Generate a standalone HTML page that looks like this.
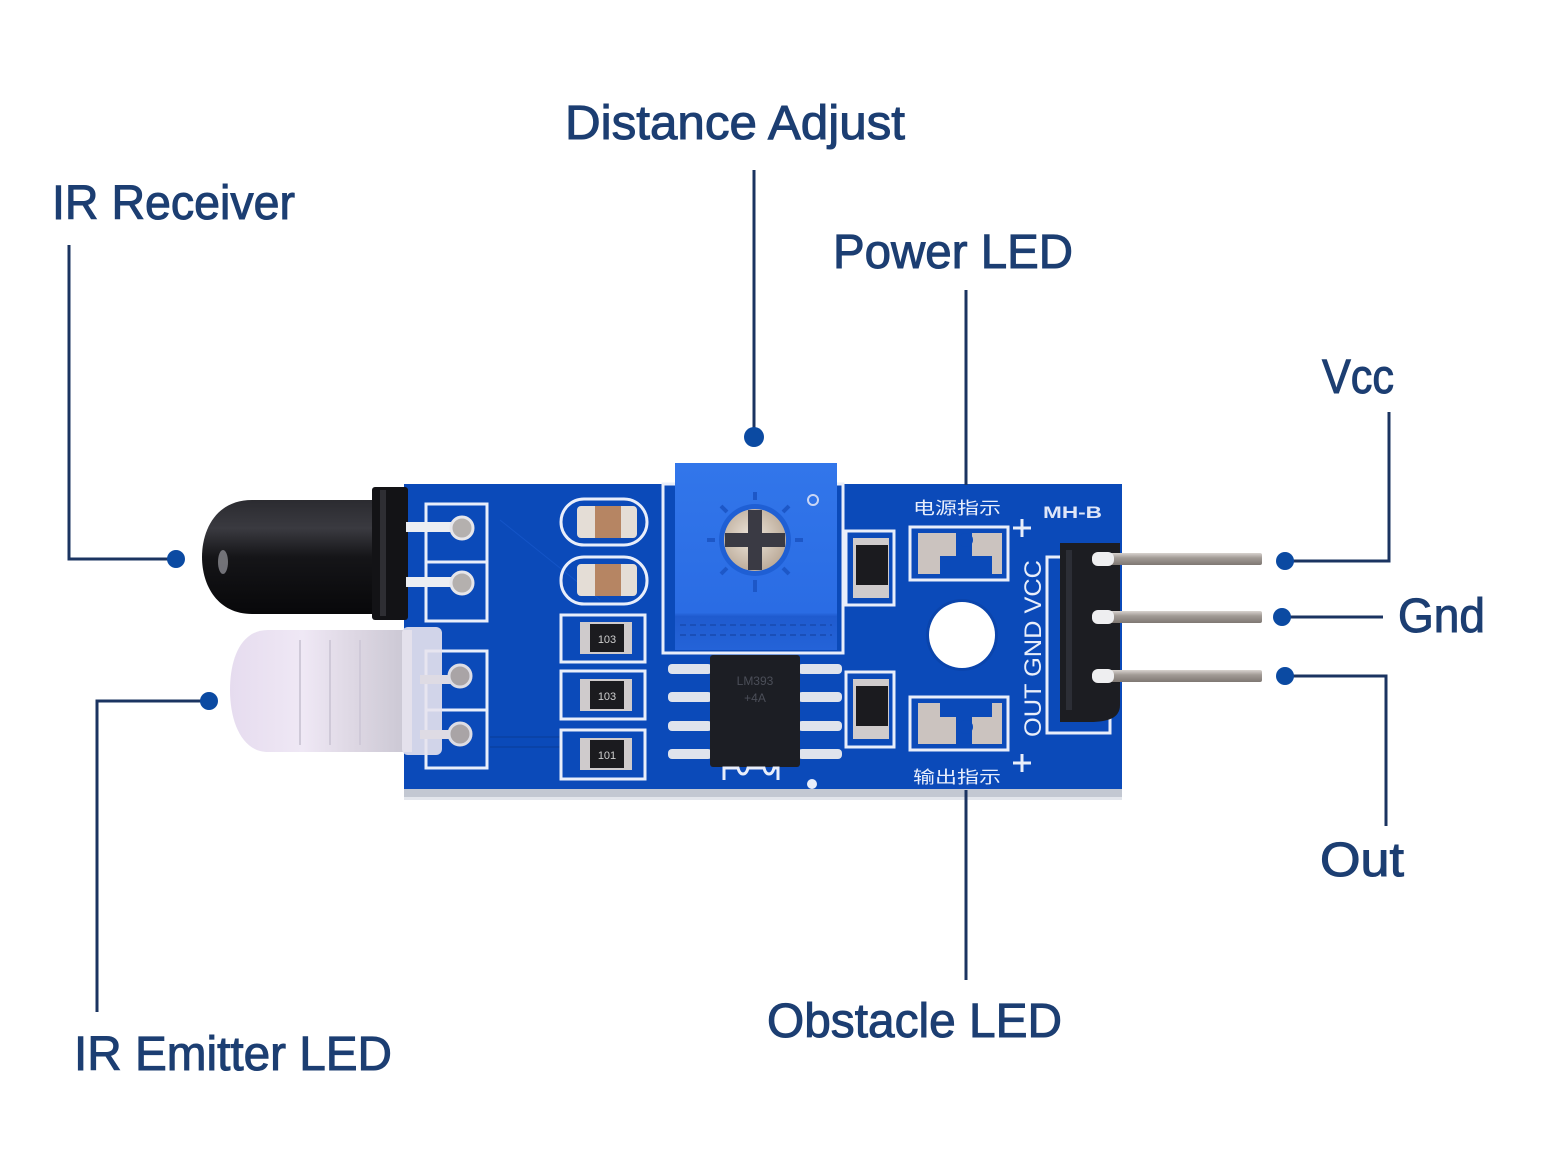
<!DOCTYPE html>
<html>
<head>
<meta charset="utf-8">
<style>
  html,body{margin:0;padding:0;background:#fff;}
  svg{display:block;}
  .lbl{font-family:"Liberation Sans",sans-serif;font-size:48px;fill:#1c3e72;stroke:#1c3e72;stroke-width:1.0;}
  .cn{font-family:"Liberation Sans","Noto Sans CJK SC",sans-serif;font-size:17px;fill:#e8eefc;}
</style>
</head>
<body>
<svg width="1550" height="1163" viewBox="0 0 1550 1163" xmlns="http://www.w3.org/2000/svg">
  <defs>
    <linearGradient id="blk" x1="0" y1="0" x2="0" y2="1">
      <stop offset="0" stop-color="#2b2b30"/>
      <stop offset="0.25" stop-color="#3a3a40"/>
      <stop offset="0.5" stop-color="#151518"/>
      <stop offset="1" stop-color="#08080a"/>
    </linearGradient>
    <linearGradient id="clear" x1="0" y1="0" x2="1" y2="0">
      <stop offset="0" stop-color="#e6dcef"/>
      <stop offset="0.4" stop-color="#efe8f5"/>
      <stop offset="0.7" stop-color="#dcd6e2"/>
      <stop offset="1" stop-color="#c9c6d2"/>
    </linearGradient>
    <linearGradient id="pin" x1="0" y1="0" x2="0" y2="1">
      <stop offset="0" stop-color="#d8d3cf"/>
      <stop offset="0.4" stop-color="#a39c97"/>
      <stop offset="1" stop-color="#7f7873"/>
    </linearGradient>
    <linearGradient id="pot" x1="0" y1="0" x2="0" y2="1">
      <stop offset="0" stop-color="#3276ea"/>
      <stop offset="0.8" stop-color="#2a6ce4"/>
      <stop offset="0.82" stop-color="#1f5bcf"/>
      <stop offset="1" stop-color="#2463d8"/>
    </linearGradient>
    <radialGradient id="knob" cx="0.45" cy="0.45" r="0.6">
      <stop offset="0" stop-color="#eee6dc"/>
      <stop offset="1" stop-color="#b9a896"/>
    </radialGradient>
  </defs>

  <rect width="1550" height="1163" fill="#ffffff"/>

  <!-- ===== Labels ===== -->
  <text class="lbl" x="52" y="219" textLength="243" lengthAdjust="spacingAndGlyphs">IR Receiver</text>
  <text class="lbl" x="565" y="139" textLength="340" lengthAdjust="spacingAndGlyphs">Distance Adjust</text>
  <text class="lbl" x="833" y="268" textLength="240" lengthAdjust="spacingAndGlyphs">Power LED</text>
  <text class="lbl" x="1322" y="393" textLength="72" lengthAdjust="spacingAndGlyphs">Vcc</text>
  <text class="lbl" x="1398" y="632" textLength="87" lengthAdjust="spacingAndGlyphs">Gnd</text>
  <text class="lbl" x="1320" y="876" textLength="84" lengthAdjust="spacingAndGlyphs">Out</text>
  <text class="lbl" x="767" y="1037" textLength="295" lengthAdjust="spacingAndGlyphs">Obstacle LED</text>
  <text class="lbl" x="74" y="1070" textLength="318" lengthAdjust="spacingAndGlyphs">IR Emitter LED</text>

  <!-- ===== Board ===== -->
  <rect x="404" y="484" width="718" height="307" fill="#0b4ab9"/>
  <rect x="404" y="789" width="718" height="10" fill="#c3c8d2"/>
  <rect x="404" y="797" width="718" height="3" fill="#e3e6ec"/>
  <!-- subtle traces -->
  <path d="M490 737 H560 M490 747 H560" stroke="#0a43a8" stroke-width="2" fill="none"/>
  <path d="M500 520 L600 600" stroke="#1a5bd0" stroke-width="1" fill="none" opacity="0.6"/>

  <!-- pad boxes left -->
  <g fill="none" stroke="#e9eefa" stroke-width="3">
    <rect x="426" y="504" width="61" height="117"/>
    <line x1="426" y1="562" x2="487" y2="562"/>
    <rect x="426" y="651" width="61" height="117"/>
    <line x1="426" y1="710" x2="487" y2="710"/>
  </g>

  <!-- IR receiver (black) -->
  <path d="M382 500 H252 C216 500 202 530 202 557 C202 586 218 614 252 614 H382 Z" fill="url(#blk)"/>
  <ellipse cx="223" cy="562" rx="5" ry="12" fill="#8a8a90" opacity="0.8"/>
  <rect x="372" y="487" width="36" height="133" rx="3" fill="#131316"/>
  <rect x="380" y="490" width="6" height="126" fill="#2e2e33"/>
  <!-- receiver leads -->
  <rect x="406" y="522" width="62" height="10" fill="#eceef2"/>
  <rect x="406" y="577" width="62" height="10" fill="#eceef2"/>
  <circle cx="462" cy="528" r="11" fill="#b4b0ae" stroke="#e6e6ea" stroke-width="3"/>
  <circle cx="462" cy="583" r="11" fill="#b4b0ae" stroke="#e6e6ea" stroke-width="3"/>

  <!-- IR emitter (clear) -->
  <path d="M412 630 H268 C240 630 230 660 230 690 C230 722 242 752 268 752 H412 Z" fill="url(#clear)"/>
  <rect x="402" y="627" width="40" height="128" rx="6" fill="#e7e3ee" opacity="0.9"/>
  <path d="M300 640 V745 M330 640 V745 M360 640 V745" stroke="#cfc9d8" stroke-width="2"/>
  <rect x="420" y="675" width="48" height="9" fill="#dedbe4"/>
  <rect x="420" y="730" width="48" height="9" fill="#dedbe4"/>
  <circle cx="460" cy="676" r="11" fill="#a9a4a6" stroke="#dddde4" stroke-width="3"/>
  <circle cx="460" cy="734" r="11" fill="#a9a4a6" stroke="#dddde4" stroke-width="3"/>

  <!-- capacitors -->
  <g stroke="#e9eefa" stroke-width="3" fill="none">
    <rect x="561" y="499" width="86" height="46" rx="23"/>
    <rect x="561" y="557" width="86" height="47" rx="23"/>
  </g>
  <rect x="577" y="506" width="60" height="32" rx="4" fill="#e4ddd6"/>
  <rect x="595" y="506" width="26" height="32" fill="#b68563"/>
  <rect x="577" y="564" width="60" height="32" rx="4" fill="#e4ddd6"/>
  <rect x="595" y="564" width="26" height="32" fill="#b68563"/>

  <!-- resistors left column -->
  <g stroke="#e9eefa" stroke-width="3" fill="none">
    <rect x="561" y="615" width="84" height="47"/>
    <rect x="561" y="671" width="84" height="48"/>
    <rect x="561" y="730" width="84" height="49"/>
  </g>
  <g>
    <rect x="580" y="622" width="52" height="32" fill="#cfcbcc"/>
    <rect x="590" y="624" width="34" height="28" fill="#1b1b1f"/>
    <text x="607" y="643" font-family="Liberation Sans,sans-serif" font-size="11" fill="#cfcfcf" text-anchor="middle">103</text>
    <rect x="580" y="679" width="52" height="32" fill="#cfcbcc"/>
    <rect x="590" y="681" width="34" height="28" fill="#1b1b1f"/>
    <text x="607" y="700" font-family="Liberation Sans,sans-serif" font-size="11" fill="#cfcfcf" text-anchor="middle">103</text>
    <rect x="580" y="738" width="52" height="32" fill="#cfcbcc"/>
    <rect x="590" y="740" width="34" height="28" fill="#1b1b1f"/>
    <text x="607" y="759" font-family="Liberation Sans,sans-serif" font-size="11" fill="#cfcfcf" text-anchor="middle">101</text>
  </g>

  <!-- potentiometer -->
  <rect x="663" y="484" width="180" height="169" fill="none" stroke="#e9eefa" stroke-width="3"/>
  <rect x="675" y="463" width="162" height="187" fill="url(#pot)"/>
  <path d="M680 625 H832 M680 635 H832" stroke="#1a4fb8" stroke-width="2" stroke-dasharray="6 4"/>
  <g stroke="#1d57c7" stroke-width="4">
    <line x1="755" y1="492" x2="755" y2="500"/>
    <line x1="755" y1="580" x2="755" y2="592"/>
    <line x1="707" y1="540" x2="715" y2="540"/>
    <line x1="795" y1="540" x2="803" y2="540"/>
    <line x1="721" y1="506" x2="727" y2="512"/>
    <line x1="789" y1="506" x2="783" y2="512"/>
    <line x1="721" y1="574" x2="727" y2="568"/>
    <line x1="789" y1="574" x2="783" y2="568"/>
  </g>
  <circle cx="755" cy="540" r="36" fill="#1f5fd4"/>
  <circle cx="755" cy="540" r="31" fill="url(#knob)"/>
  <rect x="748" y="510" width="14" height="60" fill="#3a3a44"/>
  <rect x="725" y="533" width="60" height="14" fill="#3a3a44"/>
  <circle cx="813" cy="500" r="5" fill="none" stroke="#c9d6f5" stroke-width="2"/>

  <!-- IC -->
  <g fill="#dfe3ec">
    <rect x="668" y="664" width="44" height="10" rx="4"/>
    <rect x="668" y="692" width="44" height="10" rx="4"/>
    <rect x="668" y="721" width="44" height="10" rx="4"/>
    <rect x="668" y="749" width="44" height="10" rx="4"/>
    <rect x="798" y="664" width="44" height="10" rx="4"/>
    <rect x="798" y="692" width="44" height="10" rx="4"/>
    <rect x="798" y="721" width="44" height="10" rx="4"/>
    <rect x="798" y="749" width="44" height="10" rx="4"/>
  </g>
  <rect x="710" y="655" width="90" height="112" rx="3" fill="#1c1e24"/>
  <text x="755" y="685" font-family="Liberation Sans,sans-serif" font-size="12" fill="#4b4e58" text-anchor="middle">LM393</text>
  <text x="755" y="702" font-family="Liberation Sans,sans-serif" font-size="12" fill="#4b4e58" text-anchor="middle">+4A</text>
  <path d="M724 780 V768 H738 C740 776 746 776 748 768 H764 C766 776 772 776 774 768 H778 V780" fill="none" stroke="#e9eefa" stroke-width="3"/>
  <circle cx="812" cy="784" r="5" fill="#e9eefa"/>

  <!-- small resistors right of pot -->
  <g stroke="#e9eefa" stroke-width="3" fill="none">
    <rect x="846" y="531" width="48" height="74"/>
    <rect x="846" y="672" width="48" height="75"/>
  </g>
  <rect x="853" y="538" width="36" height="60" fill="#cfcbcc"/>
  <rect x="856" y="545" width="32" height="40" fill="#1b1b1f"/>
  <rect x="853" y="679" width="36" height="60" fill="#cfcbcc"/>
  <rect x="856" y="686" width="32" height="40" fill="#1b1b1f"/>

  <!-- power LED -->
  <text class="cn" x="913" y="514" textLength="88" lengthAdjust="spacingAndGlyphs">电源指示</text>
  <rect x="910" y="527" width="98" height="53" fill="none" stroke="#e9eefa" stroke-width="3"/>
  <rect x="918" y="533" width="38" height="41" fill="#cbc3bf"/>
  <rect x="972" y="533" width="30" height="41" fill="#cbc3bf"/>
  <rect x="940" y="556" width="52" height="18" fill="#0b4ab9"/>
  <circle cx="966" cy="540" r="7" fill="#0b4ab9"/>
  <path d="M1022 519 V537 M1013 528 H1031" stroke="#e9eefa" stroke-width="3"/>

  <!-- mounting hole -->
  <circle cx="962" cy="635" r="36" fill="#0a44ac"/>
  <circle cx="962" cy="635" r="33" fill="#ffffff"/>

  <!-- obstacle LED -->
  <rect x="910" y="697" width="98" height="53" fill="none" stroke="#e9eefa" stroke-width="3"/>
  <rect x="918" y="703" width="38" height="41" fill="#cbc3bf"/>
  <rect x="972" y="703" width="30" height="41" fill="#cbc3bf"/>
  <rect x="940" y="703" width="52" height="14" fill="#0b4ab9"/>
  <circle cx="966" cy="727" r="7" fill="#0b4ab9"/>
  <text class="cn" x="913" y="783" textLength="88" lengthAdjust="spacingAndGlyphs">输出指示</text>
  <path d="M1022 754 V772 M1013 763 H1031" stroke="#e9eefa" stroke-width="3"/>

  <!-- silkscreen labels -->
  <text x="1041" y="737" transform="rotate(-90 1041 737)" font-family="Liberation Sans,sans-serif" font-size="24" fill="#e9eefa" textLength="177" lengthAdjust="spacingAndGlyphs">OUT GND VCC</text>
  <text x="1043" y="518" font-family="Liberation Sans,sans-serif" font-size="17" font-weight="bold" fill="#dfe6f8" textLength="59" lengthAdjust="spacingAndGlyphs">MH-B</text>

  <!-- header -->
  <rect x="1047" y="557" width="63" height="176" fill="none" stroke="#e9eefa" stroke-width="3"/>
  <path d="M1060 543 H1120 V705 C1120 718 1108 722 1090 722 H1060 Z" fill="#1c1d22"/>
  <rect x="1066" y="550" width="6" height="160" fill="#2c2e36"/>
  <rect x="1104" y="553" width="158" height="12" rx="2" fill="url(#pin)"/>
  <rect x="1104" y="611" width="158" height="12" rx="2" fill="url(#pin)"/>
  <rect x="1104" y="670" width="158" height="12" rx="2" fill="url(#pin)"/>
  <rect x="1092" y="552" width="22" height="14" rx="6" fill="#eeeef0"/>
  <rect x="1092" y="610" width="22" height="14" rx="6" fill="#eeeef0"/>
  <rect x="1092" y="669" width="22" height="14" rx="6" fill="#eeeef0"/>

  <!-- ===== Leader lines ===== -->
  <g stroke="#1b3461" stroke-width="3" fill="none">
    <polyline points="69,245 69,559 176,559"/>
    <line x1="754" y1="170" x2="754" y2="437"/>
    <line x1="966" y1="290" x2="966" y2="485"/>
    <polyline points="1389,412 1389,561 1285,561"/>
    <line x1="1383" y1="617" x2="1282" y2="617"/>
    <polyline points="1386,826 1386,676 1285,676"/>
    <line x1="966" y1="790" x2="966" y2="980"/>
    <polyline points="97,1012 97,701 209,701"/>
  </g>
  <g fill="#0b4aa2">
    <circle cx="176" cy="559" r="9"/>
    <circle cx="754" cy="437" r="10"/>
    <circle cx="1285" cy="561" r="9"/>
    <circle cx="1282" cy="617" r="9"/>
    <circle cx="1285" cy="676" r="9"/>
    <circle cx="209" cy="701" r="9"/>
  </g>
</svg>
</body>
</html>
